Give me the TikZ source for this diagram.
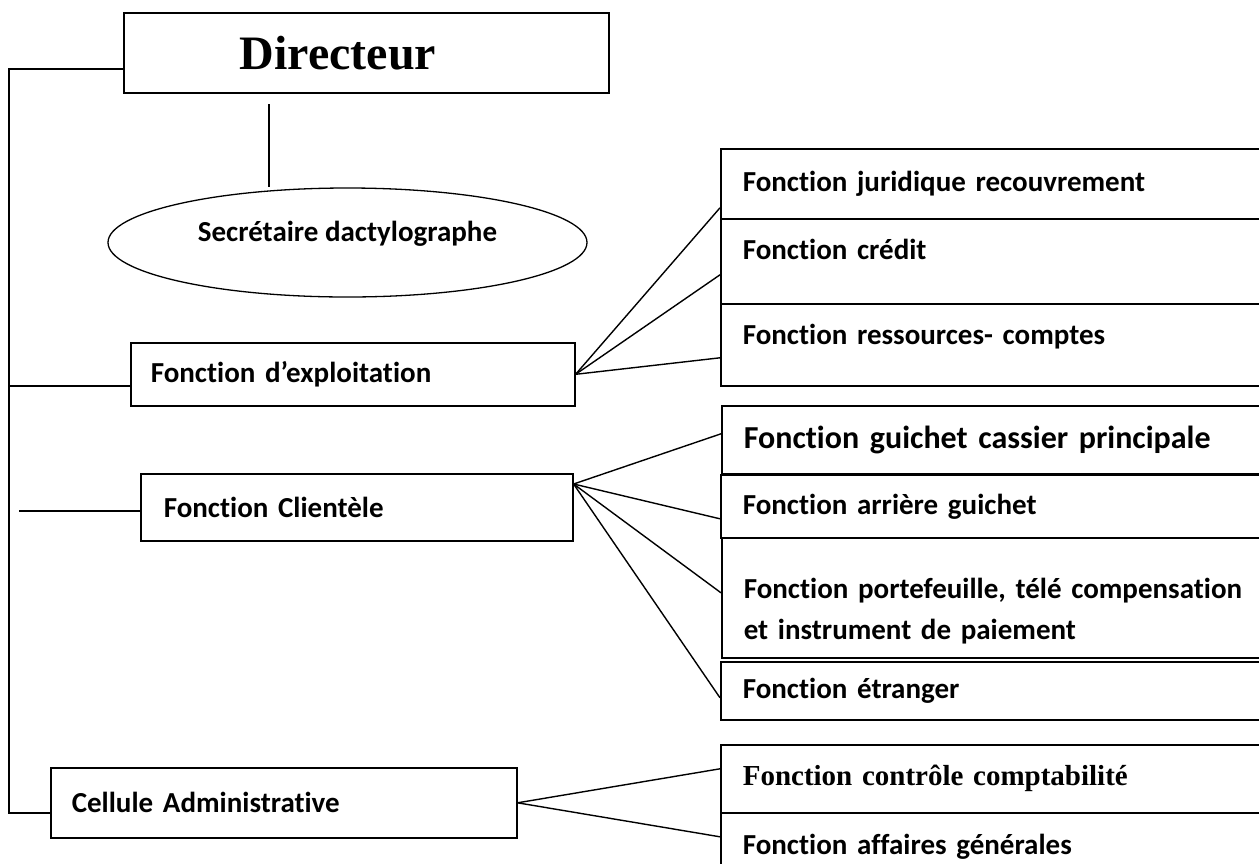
\documentclass[tikz,border=0pt]{standalone}
\usepackage{fontspec}
\setmainfont{Carlito}[Ligatures=NoCommon]
\newfontfamily\serifbf{Liberation Serif}
\usepackage{tikz}
\usetikzlibrary{shapes.geometric, positioning}

\begin{document}
\begin{tikzpicture}[
    x=1pt, y=-1pt,
    box/.style={draw, line width=1.6pt, anchor=north west, align=left,
                inner ysep=4pt, font=\fontsize{29}{41}\selectfont\bfseries},
    sub/.style={box, inner xsep=22pt, text width=504pt},
    link/.style={line width=1.4pt}
]
\useasboundingbox (0,0) rectangle (1259,863);
\clip (0,0) rectangle (1259,863);

\node[box, inner xsep=116pt, text width=253pt, minimum height=80pt,
      font=\fontsize{48}{56}\selectfont\serifbf\bfseries] (dir) at (123,12) {Directeur};
\node[draw, ellipse, line width=1.3pt, minimum width=479pt, minimum height=109pt,
      inner sep=0pt, text depth=23pt,
      font=\fontsize{29}{34}\selectfont\bfseries] (sec) at (347.5,242.5) {Secrétaire dactylographe};

\node[box, inner xsep=20pt, text width=404pt, minimum height=63pt] (exp) at (130,342) {Fonction d’exploitation};
\node[box, inner xsep=23pt, text width=386pt, minimum height=67pt] (cli) at (140,473) {Fonction Clientèle};
\node[box, inner xsep=21pt, text width=424pt, minimum height=70pt] (cel) at (50,767) {Cellule Administrative};

\node[sub, minimum height=70pt] (jur) at (720,148) {Fonction juridique recouvrement};
\node[sub, minimum height=85pt, text depth=23pt] (cre) at (720,218) {Fonction crédit};
\node[sub, minimum height=82pt, text depth=21pt] (res) at (720,303) {Fonction ressources- comptes};

\node[sub, minimum height=68pt, font=\fontsize{32}{41}\selectfont\bfseries] (gui) at (721,405) {Fonction guichet cassier principale};
\node[sub, minimum height=63pt] (arr) at (720,474) {Fonction arrière guichet};
\node[sub, minimum height=120pt, text depth=19pt] (por) at (721,537) {Fonction portefeuille, télé compensation\\et instrument de paiement};
\node[sub, minimum height=58pt] (etr) at (720,661) {Fonction étranger};

\node[sub, minimum height=68pt, font=\fontsize{29}{41}\selectfont\serifbf\bfseries] (con) at (720,744) {Fonction contrôle comptabilité};
\node[sub, minimum height=68pt] (aff) at (720,812) {Fonction affaires générales};

\coordinate (spine) at (9,0);
\coordinate (d1) at (269,104);
\draw[link] (d1) -- (d1 |- sec.north);
\draw[link] ([yshift=-16pt]dir.west) -| ([yshift=-10pt]cel.west -| spine) -- ([yshift=-10pt]cel.west);
\draw[link] ([yshift=-11.5pt]exp.west) -- ([yshift=-11.5pt]exp.west -| spine);
\draw[link] ([yshift=-3.5pt]cli.west) -- ++(-121,0);

\foreach \b/\s in {jur/-24, cre/-13.5, res/-13}
    \draw[link] (exp.east) -- ([yshift=\s pt]\b.west);
\foreach \b/\s in {gui/6, arr/-12.5, por/5, etr/-7}
    \draw[link] ([yshift=-11pt]cli.north east) -- ([yshift=\s pt]\b.west);
\foreach \b in {con, aff}
    \draw[link] (cel.east) -- ([yshift=10pt]\b.west);
\end{tikzpicture}
\end{document}
